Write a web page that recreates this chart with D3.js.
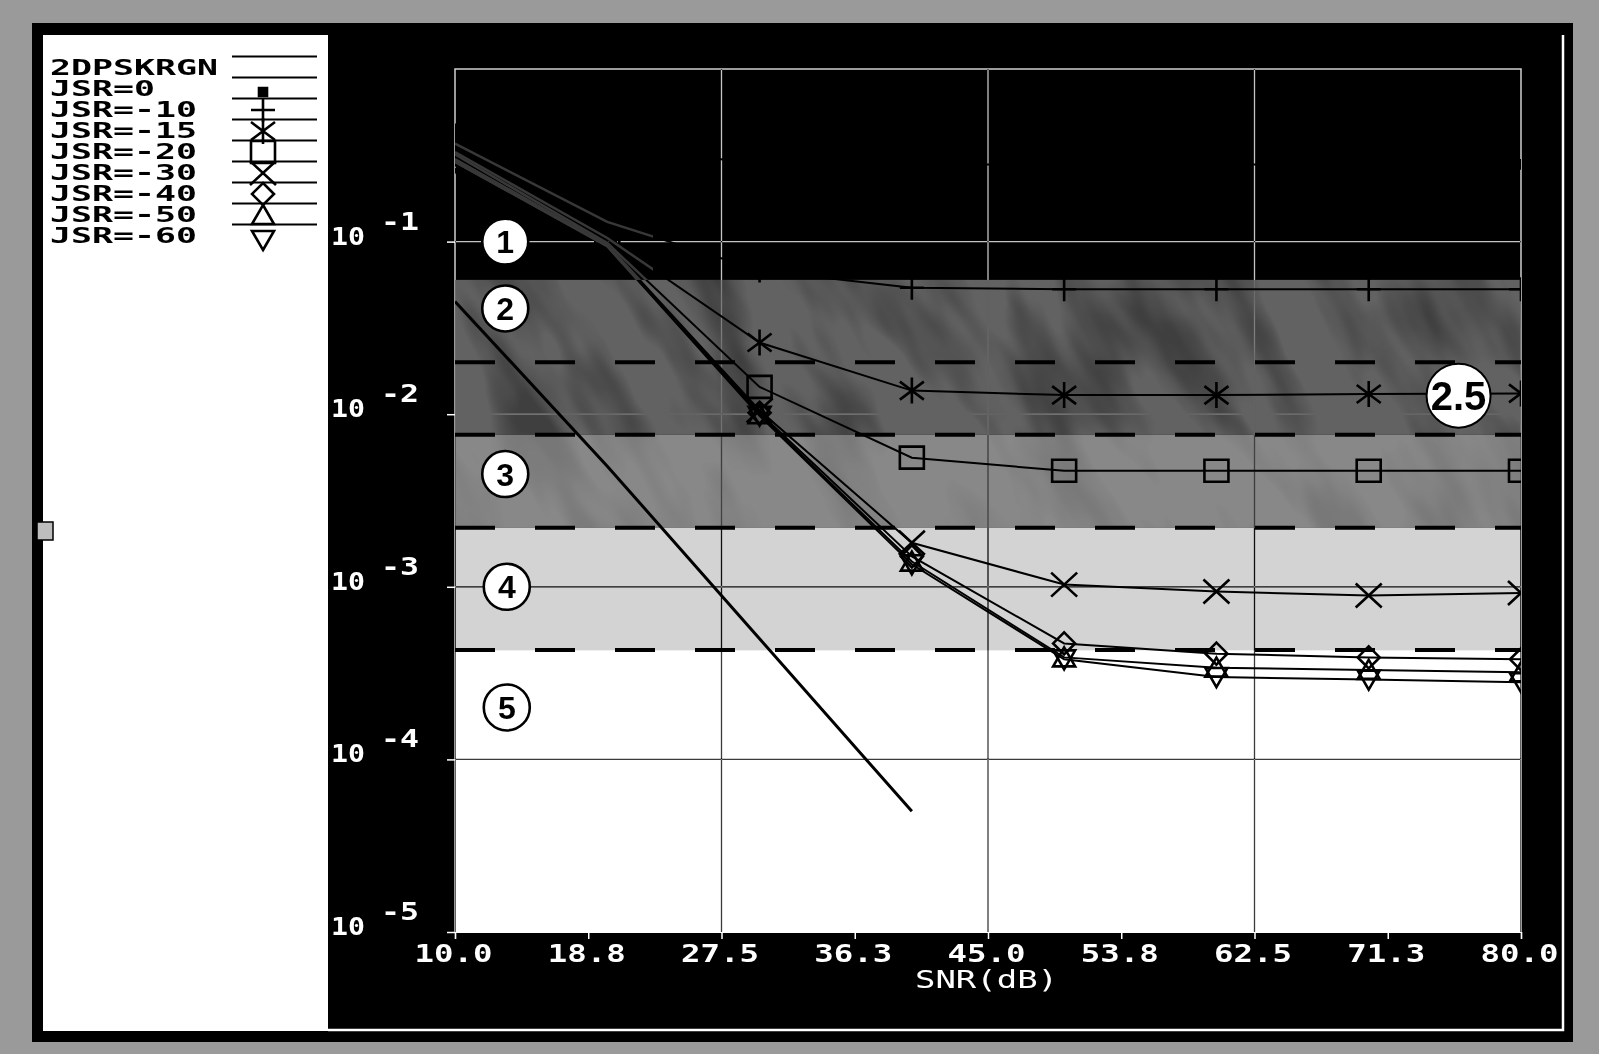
<!DOCTYPE html>
<html>
<head>
<meta charset="utf-8">
<script src="https://cdn.jsdelivr.net/npm/d3@7"></script>
<style>
  html, body { margin: 0; padding: 0; background: #9a9a9a; }
  svg { display: block; }
  .grid line, .grid path { mix-blend-mode: difference; }
</style>
</head>
<body>
<svg id="chart" width="1599" height="1054"></svg>
<script>
// ---- data -------------------------------------------------------------
// SNR sample points (dB) of the jammed curves
const snrPoints = [10, 20, 30, 40, 50, 60, 70, 80];

// 2DPSK over Rayleigh fading without jamming
const rgnSnr = [10, 20, 30, 40];
const rgnBer = [0.045, 0.005, 0.0005, 0.00005];

// bit error rate for each jammer-to-signal ratio
const seriesNames = ["JSR=0", "JSR=-10", "JSR=-15", "JSR=-20", "JSR=-30", "JSR=-40", "JSR=-50", "JSR=-60"];
const berJsr0   = [0.45, 0.33, 0.29, 0.28, 0.28, 0.28, 0.28, 0.28];
const berJsr10  = [0.37, 0.13, 0.068, 0.054, 0.053, 0.053, 0.053, 0.053];
const berJsr15  = [0.33, 0.105, 0.026, 0.0137, 0.0129, 0.0129, 0.0131, 0.0132];
const berJsr20  = [0.32, 0.098, 0.0144, 0.0056, 0.0047, 0.0047, 0.0047, 0.0047];
const berJsr30  = [0.30, 0.096, 0.0105, 0.0018, 0.00103, 0.00094, 0.00089, 0.00092];
const berJsr40  = [0.30, 0.095, 0.0102, 0.0015, 0.00047, 0.00041, 0.00039, 0.00038];
const berJsr50  = [0.29, 0.094, 0.0100, 0.0014, 0.00039, 0.00034, 0.00033, 0.00032];
const berJsr60  = [0.29, 0.094, 0.0098, 0.00135, 0.00038, 0.00030, 0.00029, 0.00028];
const seriesBer = [berJsr0, berJsr10, berJsr15, berJsr20, berJsr30, berJsr40, berJsr50, berJsr60];
const seriesMarkers = ["dot", "plus", "asterisk", "square", "cross", "diamond", "triUp", "triDown"];

// axes
const xTickValues = [10, 18.75, 27.5, 36.25, 45, 53.75, 62.5, 71.25, 80];
const xTickLabels = ["10.0", "18.8", "27.5", "36.3", "45.0", "53.8", "62.5", "71.3", "80.0"];
const xGridValues = [27.5, 45, 62.5];
const yTickValues = [1e-1, 1e-2, 1e-3, 1e-4, 1e-5];
const yTickExponents = ["-1", "-2", "-3", "-4", "-5"];
const xTitle = "SNR(dB)";

// quality zones: limits between zones, dashed limits, and the zone tags
const zoneLimits = [0.06, 0.0076, 0.0022, 0.00043];
const dashedLimits = [0.02, 0.0076, 0.0022, 0.00043];
const zoneTags = ["1", "2", "3", "4", "5", "2.5"];
const zoneTagSnr = [13.3, 13.3, 13.3, 13.4, 13.4, 75.9];
const zoneTagBer = [0.1, 0.041, 0.0045, 0.001, 0.0002, 0.0128];

// ---- layout -----------------------------------------------------------
const W = 1599, H = 1054;
const plot = { left: 455, right: 1521, top: 69, bottom: 932 };
const MONO = "'DejaVu Sans Mono', monospace";
const SANS = "'Liberation Sans', Arial, sans-serif";

const svg = d3.select("#chart");
const x = d3.scaleLinear().domain([10, 80]).range([plot.left, plot.right]);
const y = d3.scaleLog().domain([1e-5, 1]).range([plot.bottom, plot.top]);

const defs = svg.append("defs");
defs.append("clipPath").attr("id", "plotClip")
  .append("rect").attr("x", plot.left).attr("y", plot.top)
  .attr("width", plot.right - plot.left).attr("height", plot.bottom - plot.top);
defs.append("clipPath").attr("id", "darkClip")
  .append("rect").attr("x", plot.left).attr("y", plot.top)
  .attr("width", x(23) - plot.left).attr("height", y(zoneLimits[0]) - plot.top);
defs.append("clipPath").attr("id", "greyClip2")
  .append("rect").attr("x", plot.left).attr("y", y(zoneLimits[0]))
  .attr("width", plot.right - plot.left).attr("height", y(zoneLimits[1]) - y(zoneLimits[0]));
defs.append("clipPath").attr("id", "greyClip3")
  .append("rect").attr("x", plot.left).attr("y", y(zoneLimits[1]))
  .attr("width", plot.right - plot.left).attr("height", y(zoneLimits[2]) - y(zoneLimits[1]));

// mottled shading for the grey zones
const mottle = defs.append("filter").attr("id", "mottle")
  .attr("x", 0).attr("y", 0).attr("width", 1).attr("height", 1);
mottle.append("feTurbulence").attr("type", "fractalNoise")
  .attr("baseFrequency", "0.018 0.006").attr("numOctaves", 3).attr("seed", 7);
mottle.append("feColorMatrix").attr("type", "matrix")
  .attr("values", "0 0 0 0 0  0 0 0 0 0  0 0 0 0 0  3 0 0 0 -1.3");

// ---- window frame -----------------------------------------------------
svg.append("rect").attr("width", W).attr("height", H).attr("fill", "#9a9a9a");
svg.append("rect").attr("x", 32).attr("y", 23).attr("width", 1541).attr("height", 1019).attr("fill", "#000");
svg.append("rect").attr("x", 43).attr("y", 35).attr("width", 285).attr("height", 996).attr("fill", "#fff");
svg.append("path").attr("d", "M328,1030 H1563 V35")
  .attr("fill", "none").attr("stroke", "#fff").attr("stroke-width", 2.5);
svg.append("rect").attr("x", 37).attr("y", 522).attr("width", 16).attr("height", 18)
  .attr("fill", "#bdbdbd").attr("stroke", "#000").attr("stroke-width", 1.5);

// ---- zone bands -------------------------------------------------------
const bandEdges = [1, ...zoneLimits, 1e-5];
const bandFills = ["#000", "#626262", "#888888", "#d3d3d3", "#fff"];
svg.append("g").selectAll("rect").data(bandFills).join("rect")
  .attr("x", plot.left).attr("width", plot.right - plot.left)
  .attr("y", (d, i) => y(bandEdges[i]))
  .attr("height", (d, i) => y(bandEdges[i + 1]) - y(bandEdges[i]))
  .attr("fill", d => d);
[["greyClip2", 0.35], ["greyClip3", 0.12]].forEach(([clip, op]) => {
  svg.append("g").attr("clip-path", `url(#${clip})`)
    .append("g").attr("transform", `rotate(-28 ${x(45)} ${y(0.01)})`)
    .append("rect").attr("x", plot.left - 300).attr("y", y(zoneLimits[0]) - 500)
    .attr("width", plot.right - plot.left + 600).attr("height", 1000)
    .attr("filter", "url(#mottle)").attr("opacity", op);
});

// ---- grid -------------------------------------------------------------
const grid = svg.append("g").attr("class", "grid");
grid.selectAll("line.h").data(yTickValues.slice(0, 4)).join("line").attr("class", "h")
  .attr("x1", plot.left).attr("x2", plot.right)
  .attr("y1", d => y(d)).attr("y2", d => y(d))
  .attr("stroke", "#c4c4c4").attr("stroke-width", 1.3);
grid.selectAll("line.v").data(xGridValues).join("line").attr("class", "v")
  .attr("x1", d => x(d)).attr("x2", d => x(d))
  .attr("y1", plot.top).attr("y2", plot.bottom)
  .attr("stroke", "#c4c4c4").attr("stroke-width", 1.3);
grid.append("path")
  .attr("d", `M${plot.left},${plot.bottom} V${plot.top} H${plot.right} V${plot.bottom}`)
  .attr("fill", "none").attr("stroke", "#d0d0d0").attr("stroke-width", 1.5);

// dashed zone limits
svg.append("g").selectAll("line").data(dashedLimits).join("line")
  .attr("x1", plot.left).attr("x2", plot.right)
  .attr("y1", d => y(d)).attr("y2", d => y(d))
  .attr("stroke", "#000").attr("stroke-width", 4).attr("stroke-dasharray", "40 40");

// ---- axes -------------------------------------------------------------
const xAxis = d3.axisBottom(x).tickValues(xTickValues)
  .tickFormat((d, i) => xTickLabels[i]).tickSize(7).tickPadding(8);
const gx = svg.append("g").attr("transform", `translate(0,${plot.bottom})`).call(xAxis);
gx.select(".domain").attr("stroke", "#fff").attr("stroke-width", 1.2);
gx.selectAll(".tick line").attr("stroke", "#fff").attr("stroke-width", 1.5);
gx.selectAll(".tick text")
  .attr("fill", "#fff").attr("font-family", MONO).attr("font-weight", "bold")
  .attr("font-size", 24).attr("dy", null).attr("y", 30).attr("dx", -2)
  .attr("textLength", 78).attr("lengthAdjust", "spacingAndGlyphs");

const yAxis = d3.axisLeft(y).tickValues(yTickValues).tickFormat("").tickSize(8);
const gy = svg.append("g").attr("transform", `translate(${plot.left},0)`).call(yAxis);
gy.select(".domain").remove();
gy.selectAll(".tick line").attr("stroke", "#fff").attr("stroke-width", 1.5);

const yLab = svg.append("g").attr("fill", "#fff").attr("font-family", MONO).attr("font-weight", "bold");
yTickValues.forEach((v, i) => {
  yLab.append("text").attr("x", 331).attr("y", y(v) + 3)
    .attr("font-size", 24).attr("textLength", 34).attr("lengthAdjust", "spacingAndGlyphs")
    .text("10");
  yLab.append("text").attr("x", 381).attr("y", y(v) - 12)
    .attr("font-size", 24).attr("textLength", 38).attr("lengthAdjust", "spacingAndGlyphs")
    .text(yTickExponents[i]);
});

svg.append("text").attr("x", 915).attr("y", 988)
  .attr("fill", "#fff").attr("font-family", MONO).attr("font-size", 24)
  .attr("textLength", 143).attr("lengthAdjust", "spacingAndGlyphs")
  .text(xTitle);

// ---- curves -----------------------------------------------------------
function markerPath(type) {
  switch (type) {
    case "dot": return "M-4,-4H4V4H-4Z";
    case "plus": return "M0,-12V12M-12,0H12";
    case "asterisk": return "M0,-13V13M-12,-9L12,9M-12,9L12,-9";
    case "square": return "M-12,-11H12V11H-12Z";
    case "cross": return "M-13,-12L13,12M-13,12L13,-12";
    case "diamond": return "M0,-11L11,0L0,11L-11,0Z";
    case "triUp": return "M0,-10L11,9H-11Z";
    case "triDown": return "M0,10L11,-9H-11Z";
  }
  return "";
}

const line = d3.line().x(d => x(d[0])).y(d => y(d[1]));
const curves = seriesBer.map((ber, k) => ({
  name: seriesNames[k], marker: seriesMarkers[k],
  pts: snrPoints.map((s, i) => [s, ber[i]])
}));

const plotG = svg.append("g").attr("clip-path", "url(#plotClip)");
plotG.append("path").datum(rgnSnr.map((s, i) => [s, rgnBer[i]]))
  .attr("d", line).attr("fill", "none").attr("stroke", "#000").attr("stroke-width", 3);

plotG.selectAll("path.curve").data(curves).join("path").attr("class", "curve")
  .attr("d", d => line(d.pts)).attr("fill", "none")
  .attr("stroke", "#000").attr("stroke-width", 2);

// the curves show faintly where they cross the black zone at low SNR
svg.append("g").attr("clip-path", "url(#darkClip)")
  .selectAll("path").data(curves.slice(1)).join("path")
  .attr("d", d => line(d.pts)).attr("fill", "none")
  .attr("stroke", "#383838").attr("stroke-width", 2.5);

curves.forEach(c => {
  plotG.append("g").selectAll("path").data(c.pts).join("path")
    .attr("transform", d => `translate(${x(d[0])},${y(d[1])})`)
    .attr("d", markerPath(c.marker))
    .attr("fill", c.marker === "dot" ? "#000" : "none")
    .attr("stroke", "#000").attr("stroke-width", 2.6);
});

// ---- zone tags --------------------------------------------------------
const tags = svg.append("g");
zoneTags.forEach((t, i) => {
  const big = t.length > 1;
  const cx = x(zoneTagSnr[i]), cy = y(zoneTagBer[i]);
  tags.append("circle").attr("cx", cx).attr("cy", cy).attr("r", big ? 32 : 23)
    .attr("fill", "#fff").attr("stroke", "#000").attr("stroke-width", big ? 2 : 2.6);
  tags.append("text").attr("x", cx).attr("y", cy).attr("dy", "0.36em")
    .attr("text-anchor", "middle").attr("font-family", SANS).attr("font-weight", "bold")
    .attr("font-size", big ? 40 : 32).attr("fill", "#000").text(t);
});

// ---- legend -----------------------------------------------------------
const legendRows = ["2DPSKRGN", ...seriesNames];
const legendMarks = [null, ...seriesMarkers];
const leg = svg.append("g");
legendRows.forEach((name, i) => {
  const cy = 67 + 21 * i;
  leg.append("line").attr("x1", 232).attr("x2", 317).attr("y1", cy - 10.5).attr("y2", cy - 10.5)
    .attr("stroke", "#000").attr("stroke-width", 2);
  leg.append("text").attr("x", 50).attr("y", cy + 7.5)
    .attr("font-family", MONO).attr("font-weight", "bold").attr("font-size", 21)
    .attr("textLength", name.length * 21).attr("lengthAdjust", "spacingAndGlyphs")
    .attr("fill", "#000").text(name);
});
legendRows.forEach((name, i) => {
  const m = legendMarks[i];
  if (!m) return;
  const cy = 67 + 21 * i + (m === "dot" ? 4 : (m === "triDown" ? 5 : 1));
  leg.append("path").attr("transform", `translate(263,${cy})`)
    .attr("d", markerPath(m))
    .attr("fill", m === "dot" ? "#000" : "none")
    .attr("stroke", "#000").attr("stroke-width", 2.6);
});
</script>
</body>
</html>
